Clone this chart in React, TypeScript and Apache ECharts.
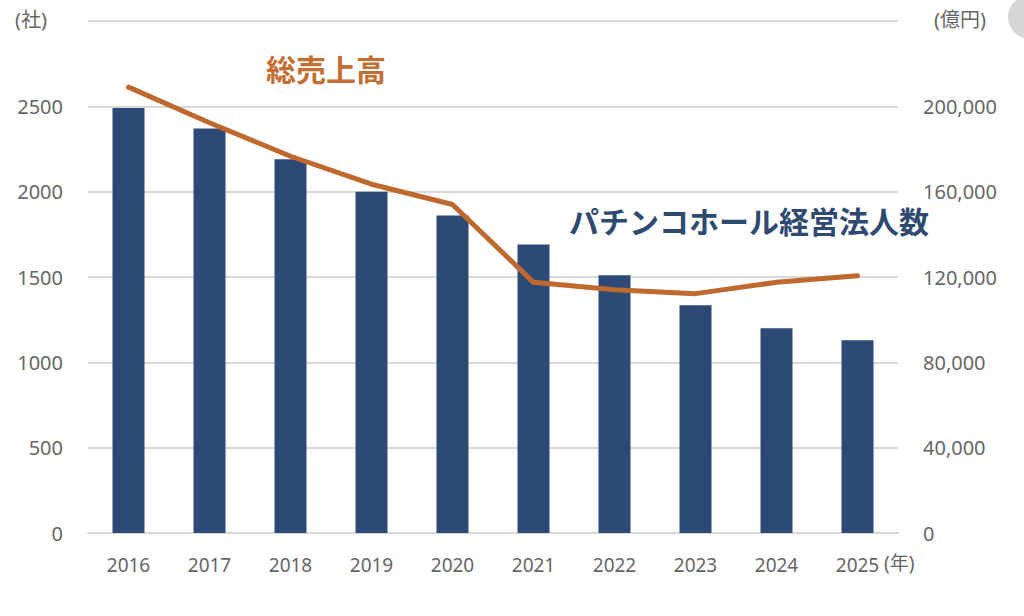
import React, { useEffect, useRef } from "react";
import * as echarts from "echarts";

const years = ["2016", "2017", "2018", "2019", "2020", "2021", "2022", "2023", "2024", "2025"];
const companies = [2490, 2370, 2190, 2000, 1860, 1690, 1510, 1335, 1200, 1130];
const sales = [209000, 192300, 176600, 163500, 154000, 117500, 114000, 112200, 117500, 120600];
const leftTicks = [0, 500, 1000, 1500, 2000, 2500];
const rightTicks = [0, 40000, 80000, 120000, 160000, 200000];

const FONT = "'Noto Sans', 'Noto Sans CJK JP', sans-serif";
const GRAY = "#666666";
const NAVY = "#2C4A75";
const ORANGE = "#C0692E";

export default function App() {
  const ref = useRef<HTMLDivElement>(null);
  useEffect(() => {
    if (!ref.current) return;
    const chart = echarts.init(ref.current, null, { renderer: "svg" });
    chart.setOption({
      animation: false,
      backgroundColor: "#ffffff",
      grid: { left: 88, right: 126, top: 21, bottom: 83, containLabel: false },
      xAxis: {
        type: "category",
        data: years,
        axisLine: { show: true, lineStyle: { color: "#d9d9d9", width: 2 } },
        axisTick: { show: false },
        axisLabel: { color: GRAY, fontSize: 19, fontFamily: FONT, margin: 22 },
      },
      yAxis: [
        {
          type: "value",
          min: 0,
          max: 3000,
          interval: 500,
          axisLine: { show: false },
          axisTick: { show: false },
          splitLine: { lineStyle: { color: "#d9d9d9", width: 2 } },
          axisLabel: {
            color: GRAY,
            fontSize: 20,
            fontFamily: FONT,
            margin: 25,
            formatter: (v: number) => (leftTicks.includes(v) ? String(v) : ""),
          },
        },
        {
          type: "value",
          min: 0,
          max: 240000,
          interval: 40000,
          axisLine: { show: false },
          axisTick: { show: false },
          splitLine: { show: false },
          axisLabel: {
            color: GRAY,
            fontSize: 20,
            fontFamily: FONT,
            margin: 25,
            formatter: (v: number) => (rightTicks.includes(v) ? v.toLocaleString("en-US") : ""),
          },
        },
      ],
      series: [
        {
          type: "bar",
          data: companies,
          yAxisIndex: 0,
          barWidth: 32,
          itemStyle: { color: NAVY },
        },
        {
          type: "line",
          data: sales,
          yAxisIndex: 1,
          symbol: "none",
          lineStyle: { color: ORANGE, width: 5, join: "round", cap: "round" },
        },
      ],
      graphic: [
        { type: "text", left: 15, top: 9, style: { text: "(社)", fill: GRAY, font: `20px ${FONT}` } },
        { type: "text", left: 934, top: 9, style: { text: "(億円)", fill: GRAY, font: `20px ${FONT}` } },
        { type: "text", left: 884, top: 553, style: { text: "(年)", fill: GRAY, font: `19px ${FONT}` } },
        {
          type: "text",
          left: 266,
          top: 54,
          style: { text: "総売上高", fill: "#C46E33", font: `bold 30px ${FONT}` },
        },
        {
          type: "text",
          left: 569,
          top: 206,
          style: { text: "パチンコホール経営法人数", fill: "#2E4A70", font: `bold 30px ${FONT}` },
        },
        { type: "circle", shape: { cx: 1030, cy: 17, r: 22 }, style: { fill: "#d6d6d6" } },
      ],
    });
    return () => chart.dispose();
  }, []);
  return <div ref={ref} style={{ position: "fixed", left: 0, top: 0, width: 1024, height: 616 }} />;
}
